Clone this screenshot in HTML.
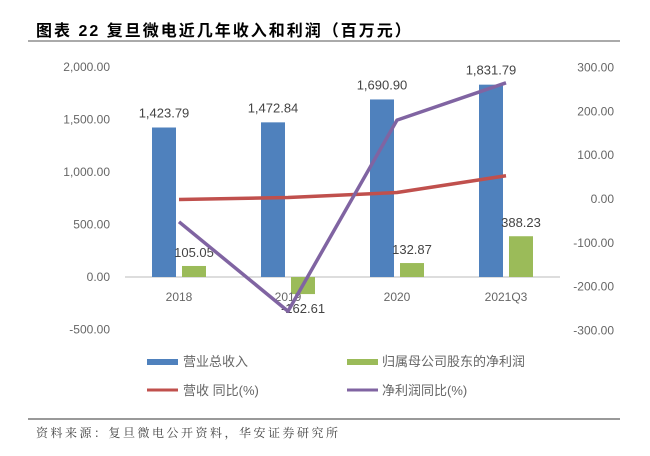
<!DOCTYPE html>
<html><head><meta charset="utf-8"><style>
body{margin:0;width:650px;height:451px;background:#fff;font-family:"Liberation Sans","Noto Sans CJK SC",sans-serif;overflow:hidden}
</style></head><body>
<svg id="c" width="650" height="451" xmlns="http://www.w3.org/2000/svg">
<text x="36" y="36" font-size="16" font-weight="bold" letter-spacing="2" fill="#000" font-family="Liberation Sans, Noto Sans CJK SC, sans-serif">图表 22 复旦微电近几年收入和利润（百万元）</text>
<line x1="28" y1="41" x2="620" y2="41" stroke="#555" stroke-width="1"/>
<line x1="28" y1="419" x2="620" y2="419" stroke="#333" stroke-width="1"/>
<text x="36" y="437" font-size="12" letter-spacing="2.5" fill="#444" font-family="Noto Serif CJK SC, serif">资料来源：复旦微电公开资料，华安证券研究所</text>
<g id="plot"></g>
<g>
<rect x="147" y="359" width="31" height="6" fill="#4f81bd"/>
<text x="183" y="366" font-size="13" fill="#666">营业总收入</text>
<rect x="347" y="359" width="31" height="6" fill="#9bbb59"/>
<text x="382" y="366" font-size="13" fill="#666">归属母公司股东的净利润</text>
<line x1="147" y1="390" x2="178" y2="390" stroke="#c0504d" stroke-width="3"/>
<text x="183" y="395" font-size="13" fill="#666">营收 同比(%)</text>
<line x1="347" y1="390" x2="378" y2="390" stroke="#8064a2" stroke-width="3"/>
<text x="382" y="395" font-size="13" fill="#666">净利润同比(%)</text>
</g>
</svg>
<script>
const categories=["2018","2019","2020","2021Q3"];
const revenue=[1423.79,1472.84,1690.90,1831.79];
const profit=[105.05,-162.61,132.87,388.23];
const revenueGrowth=[-1,3.5,14.8,53];
const profitGrowth=[-52,-256,180,265];
const leftTicks=[2000,1500,1000,500,0,-500];
const rightTicks=[300,200,100,0,-100,-200,-300];
const leftLabels=["2,000.00","1,500.00","1,000.00","500.00","0.00","-500.00"];
const rightLabels=["300.00","200.00","100.00","0.00","-100.00","-200.00","-300.00"];

const NS="http://www.w3.org/2000/svg";
const g=document.getElementById('plot');
const yL=v=>277-v*(210/2000);
const yR=v=>199-v*(131.5/300);
const xC=i=>179+i*109;
function mk(t,a){const e=document.createElementNS(NS,t);for(const k in a)e.setAttribute(k,a[k]);g.appendChild(e);return e;}
const fmt=v=>v.toLocaleString('en-US',{minimumFractionDigits:2,maximumFractionDigits:2});

leftTicks.forEach((v,i)=>{const t=mk('text',{x:110,y:yL(v)+4,'font-size':12,fill:'#666','text-anchor':'end'});t.textContent=leftLabels[i];

});
rightTicks.forEach((v,i)=>{const t=mk('text',{x:614,y:yR(v)+4,'font-size':12,fill:'#666','text-anchor':'end'});t.textContent=rightLabels[i];

});
const ax=mk('line',{x1:125,y1:yL(0),x2:560,y2:yL(0),stroke:'#bbb','stroke-width':1});


categories.forEach((c,i)=>{
 const b=mk('rect',{x:xC(i)-27,y:Math.min(yL(revenue[i]),yL(0)),width:24,height:Math.abs(yL(revenue[i])-yL(0)),fill:'#4f81bd'});
 
 
 const p=mk('rect',{x:xC(i)+3,y:Math.min(yL(profit[i]),yL(0)),width:24,height:Math.abs(yL(profit[i])-yL(0)),fill:'#9bbb59'});
 
 
 const t=mk('text',{x:xC(i),y:yL(0)+24,'font-size':12,fill:'#666','text-anchor':'middle'});t.textContent=c;
 
 
 const l1=mk('text',{x:xC(i)-15,y:yL(revenue[i])-10,'font-size':13,fill:'#444','text-anchor':'middle'});l1.textContent=fmt(revenue[i]);
 
 
 const py=profit[i]>=0?yL(profit[i])-9:yL(profit[i])+19;
 const l2=mk('text',{x:xC(i)+15,y:py,'font-size':13,fill:'#444','text-anchor':'middle'});l2.textContent=fmt(profit[i]);
 
 
});
function line(vals,col,name){const pts=vals.map((v,i)=>xC(i)+','+yR(v)).join(' ');
 const e=mk('polyline',{points:pts,fill:'none',stroke:col,'stroke-width':3.5,'stroke-linejoin':'round'});
 
 }
line(revenueGrowth,'#c0504d','line-revenue-growth');
line(profitGrowth,'#8064a2','line-profit-growth');
</script>
</body></html>
